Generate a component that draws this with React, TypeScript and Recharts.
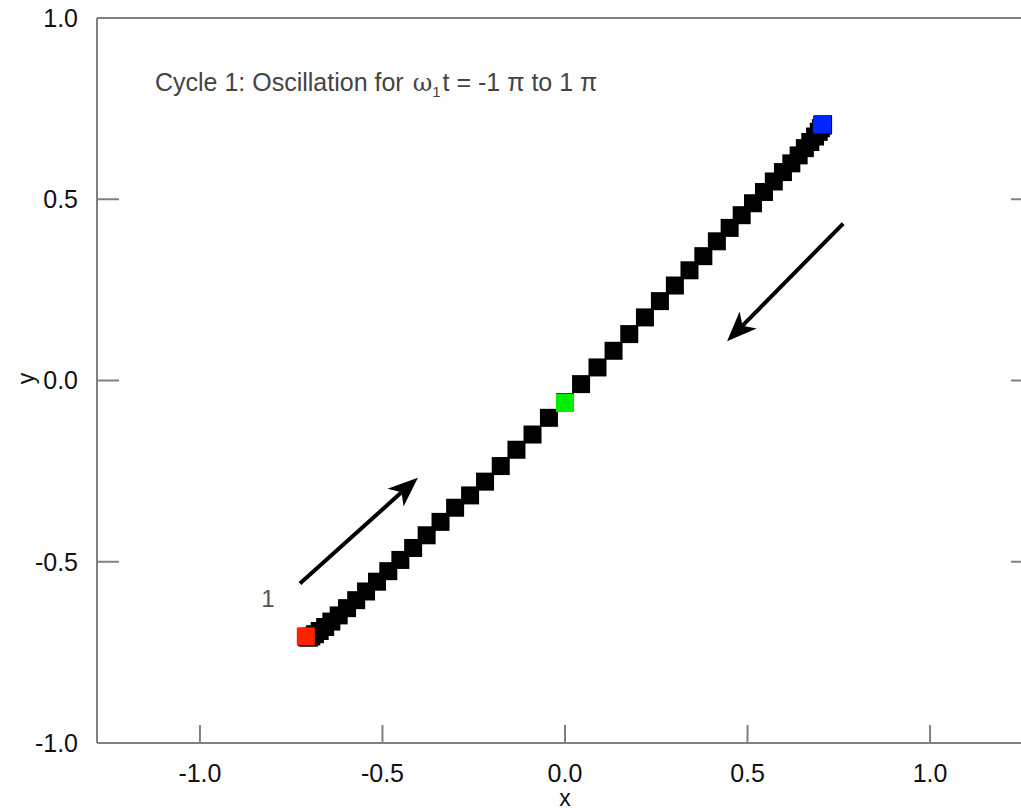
import { ReferenceDot, ReferenceLine, Scatter, ScatterChart, XAxis, YAxis } from "recharts";

// marker trail, from the red start up to the blue end
const traceX = [
  -0.707, -0.706, -0.701, -0.695, -0.685, -0.672, -0.657, -0.64, -0.62, -0.597,
  -0.572, -0.545, -0.515, -0.484, -0.451, -0.416, -0.379, -0.341, -0.301, -0.26,
  -0.219, -0.176, -0.133, -0.089, -0.044, 0.0, 0.044, 0.089, 0.133, 0.176,
  0.219, 0.26, 0.301, 0.341, 0.379, 0.416, 0.451, 0.484, 0.515, 0.545,
  0.572, 0.597, 0.62, 0.64, 0.657, 0.672, 0.685, 0.695, 0.701, 0.706, 0.707,
];
const traceY = [
  -0.707, -0.709, -0.709, -0.706, -0.7, -0.691, -0.68, -0.665, -0.648, -0.628,
  -0.606, -0.582, -0.555, -0.526, -0.495, -0.462, -0.427, -0.39, -0.351, -0.317,
  -0.279, -0.236, -0.191, -0.149, -0.103, -0.06, -0.01, 0.036, 0.082, 0.128,
  0.174, 0.219, 0.262, 0.304, 0.343, 0.384, 0.421, 0.456, 0.489, 0.52,
  0.549, 0.575, 0.599, 0.621, 0.641, 0.658, 0.673, 0.686, 0.696, 0.703, 0.707,
];

// highlighted samples: start, middle, end
const startX = [-0.71];
const startY = [-0.706];
const midX = [0.0];
const midY = [-0.062];
const endX = [0.704];
const endY = [0.706];

// direction arrows (tail -> head) and the "1" tag
const arrowUpX = [-0.726, -0.403];
const arrowUpY = [-0.56, -0.268];
const arrowDownX = [0.762, 0.444];
const arrowDownY = [0.433, 0.108];
const tagX = -0.814;
const tagY = -0.601;

const xTicks = [-1, -0.5, 0, 0.5, 1];
const yTicks = [-1, -0.5, 0, 0.5, 1];

const FONT = '"Liberation Sans", Arial, Helvetica, sans-serif';
const AXIS = "#808080";

const toPoints = (xs: number[], ys: number[]) => xs.map((x, i) => ({ x, y: ys[i] }));

const trace = toPoints(traceX, traceY);
const startPts = toPoints(startX, startY);
const midPts = toPoints(midX, midY);
const endPts = toPoints(endX, endY);

const square = (color: string) => (p: any) =>
  <rect x={p.cx - 9} y={p.cy - 9} width={18} height={18} fill={color} />;

function Arrow(props: any) {
  const { x1, y1, x2, y2 } = props;
  const ang = Math.atan2(y2 - y1, x2 - x1);
  const ux = Math.cos(ang);
  const uy = Math.sin(ang);
  const len = 30;
  const half = 12;
  const notch = 22;
  const bx = x2 - ux * len;
  const by = y2 - uy * len;
  const nx = x2 - ux * notch;
  const ny = y2 - uy * notch;
  const pts = [
    [x2, y2],
    [bx - uy * half, by + ux * half],
    [nx, ny],
    [bx + uy * half, by - ux * half],
  ];
  return (
    <g>
      <line x1={x1} y1={y1} x2={nx} y2={ny} stroke="#000" strokeWidth={4} />
      <polygon points={pts.map((p) => p.join(",")).join(" ")} fill="#000" />
    </g>
  );
}

const fmt = (v: number) => v.toFixed(1);
const blank = () => "";

export default function App() {
  return (
    <div
      style={{
        position: "absolute",
        left: 0,
        top: 0,
        width: 1021,
        height: 811,
        overflow: "hidden",
        background: "#fff",
      }}
    >
      <ScatterChart width={1060} height={811} margin={{ top: 0, right: 0, bottom: 0, left: 0 }}>
        <XAxis
          xAxisId="b"
          type="number"
          dataKey="x"
          domain={[-1.282, 1.282]}
          allowDataOverflow
          ticks={xTicks}
          tickFormatter={fmt}
          height={68}
          tickSize={-18}
          tickMargin={39}
          stroke={AXIS}
          strokeWidth={2}
          tick={{ fill: "#111", fontSize: 25, fontFamily: FONT }}
          label={{
            content: ({ viewBox }: any) => (
              <text
                x={viewBox.x + viewBox.width / 2}
                y={viewBox.y + 63}
                textAnchor="middle"
                fontSize={23}
                fontFamily={FONT}
                fill="#111"
              >
                x
              </text>
            ),
          }}
        />
        <XAxis
          xAxisId="t"
          orientation="top"
          type="number"
          domain={[-1.282, 1.282]}
          allowDataOverflow
          ticks={xTicks}
          tickFormatter={blank}
          height={18}
          tickSize={-18}
          stroke={AXIS}
          strokeWidth={2}
        />
        <YAxis
          yAxisId="l"
          type="number"
          dataKey="y"
          domain={[-1, 1]}
          allowDataOverflow
          ticks={yTicks}
          tickFormatter={fmt}
          width={97}
          tickSize={-22}
          tickMargin={41}
          stroke={AXIS}
          strokeWidth={2}
          tick={{ fill: "#111", fontSize: 25, fontFamily: FONT }}
          label={{
            content: ({ viewBox }: any) => {
              const cx = viewBox.x + 26;
              const cy = viewBox.y + viewBox.height / 2 - 2;
              return (
                <text
                  x={cx}
                  y={cy}
                  transform={`rotate(-90 ${cx} ${cy})`}
                  textAnchor="middle"
                  dominantBaseline="central"
                  fontSize={23}
                  fontFamily={FONT}
                  fill="#111"
                >
                  y
                </text>
              );
            },
          }}
        />
        <YAxis
          yAxisId="r"
          orientation="right"
          type="number"
          domain={[-1, 1]}
          allowDataOverflow
          ticks={yTicks}
          tickFormatter={blank}
          width={27}
          tickSize={-22}
          axisLine={false}
          stroke={AXIS}
          strokeWidth={2}
        />

        <ReferenceLine
          xAxisId="b"
          yAxisId="l"
          segment={[
            { x: arrowUpX[0], y: arrowUpY[0] },
            { x: arrowUpX[1], y: arrowUpY[1] },
          ]}
          shape={Arrow}
        />
        <ReferenceLine
          xAxisId="b"
          yAxisId="l"
          segment={[
            { x: arrowDownX[0], y: arrowDownY[0] },
            { x: arrowDownX[1], y: arrowDownY[1] },
          ]}
          shape={Arrow}
        />
        <ReferenceDot
          xAxisId="b"
          yAxisId="l"
          x={tagX}
          y={tagY}
          r={1}
          fill="none"
          stroke="none"
          label={{ value: "1", position: "center", fontSize: 24, fontFamily: FONT, fill: "#555" }}
        />

        <Scatter xAxisId="b" yAxisId="l" data={trace} shape={square("#000")} isAnimationActive={false} />
        <Scatter xAxisId="b" yAxisId="l" data={startPts} shape={square("#ff2200")} isAnimationActive={false} />
        <Scatter xAxisId="b" yAxisId="l" data={midPts} shape={square("#00ee00")} isAnimationActive={false} />
        <Scatter xAxisId="b" yAxisId="l" data={endPts} shape={square("#0026ff")} isAnimationActive={false} />
      </ScatterChart>

      <div
        style={{
          position: "absolute",
          left: 155,
          top: 70,
          fontFamily: FONT,
          fontSize: 25,
          lineHeight: 1,
          color: "#444",
          whiteSpace: "nowrap",
        }}
      >
        Cycle 1: Oscillation for{" "}
        <span style={{ fontFamily: '"DejaVu Serif", serif', fontSize: 24, marginLeft: 2 }}>ω</span>
        <sub style={{ fontSize: 15, marginRight: 2 }}>1</sub>t = -1 π to 1{" "}π
      </div>
    </div>
  );
}
